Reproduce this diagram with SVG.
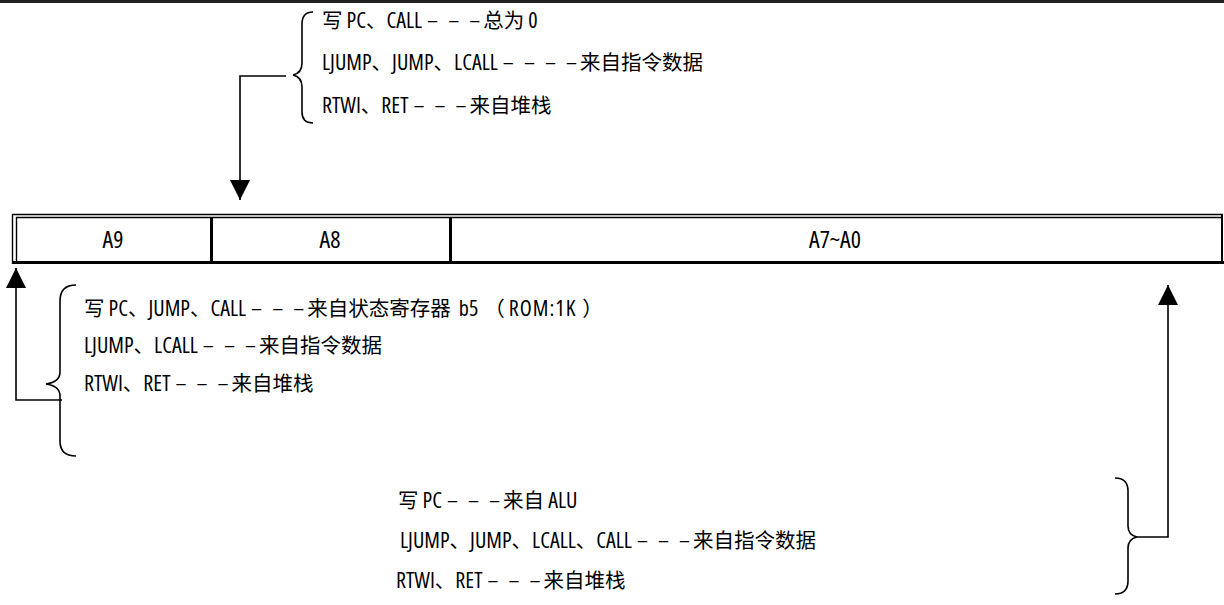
<svg xmlns="http://www.w3.org/2000/svg" width="1224" height="605" viewBox="0 0 1224 605">
<style>
.t{font-family:"Noto Sans CJK SC",sans-serif;font-size:20.5px;fill:#000}
.l{font-family:"Open Sans",sans-serif;font-stretch:75%;font-size:22px}
.d{font-family:"Open Sans",sans-serif;font-stretch:75%;font-size:22px;letter-spacing:3px}
.c{font-family:"Open Sans",sans-serif;font-stretch:75%;font-size:24px;fill:#000;text-anchor:middle}
.ln{stroke:#000;fill:none;stroke-width:1.6}
.br{stroke:#000;fill:none;stroke-width:1.6}
.thin{stroke:#000;stroke-width:1.4;fill:none}
.thick{stroke:#000;stroke-width:3;fill:none}
</style>
<defs>
<marker id="arr" markerUnits="userSpaceOnUse" markerWidth="20" markerHeight="20" refX="20" refY="10" orient="auto">
<path d="M0,0 L20,10 L0,20 z" fill="#000"/>
</marker>
</defs>
<rect x="0" y="0" width="1224" height="3" fill="#222"/>

<g id="register">
<line class="thin" x1="12" y1="214.5" x2="1223" y2="214.5"/>
<line class="thin" x1="16" y1="217.5" x2="1222" y2="217.5"/>
<line class="thin" x1="12.5" y1="214" x2="12.5" y2="264"/>
<line class="thin" x1="16.5" y1="217" x2="16.5" y2="262"/>
<line class="thick" x1="12" y1="262.5" x2="1224" y2="262.5"/>
<line class="thin" x1="1222" y1="214" x2="1222" y2="264" style="stroke-width:2"/>
<line class="thick" x1="211.5" y1="217" x2="211.5" y2="262"/>
<line class="thick" x1="450.5" y1="217" x2="450.5" y2="262"/>
<text class="c" x="113" y="248">A9</text>
<text class="c" x="330" y="248">A8</text>
<text class="c" x="835" y="248">A7~A0</text>
</g>

<g id="top-note">
<path class="br" d="M313,12 Q302,12 302,24 L302,63 Q302,73 293,75 Q302,77 302,87 L302,112 Q302,123 313,123"/>
<text class="t" x="322" y="28">写<tspan class="l"> PC</tspan>、<tspan class="l">CALL</tspan><tspan class="d" dx="5">– – –</tspan>总为<tspan class="l"> 0</tspan></text>
<text class="t" x="322" y="70"><tspan class="l">LJUMP</tspan>、<tspan class="l">JUMP</tspan>、<tspan class="l">LCALL</tspan><tspan class="d" dx="5">– – – –</tspan>来自指令数据</text>
<text class="t" x="322" y="113"><tspan class="l">RTWI</tspan>、<tspan class="l">RET</tspan><tspan class="d" dx="5">– – –</tspan>来自堆栈</text>
</g>

<g id="left-note">
<path class="br" d="M76,285 Q60,285 60,301 L60,372 Q60,382 46,384 Q60,386 60,396 L60,441 Q60,456 76,456"/>
<text class="t" x="84" y="316">写<tspan class="l"> PC</tspan>、<tspan class="l">JUMP</tspan>、<tspan class="l">CALL</tspan><tspan class="d" dx="5">– – –</tspan>来自状态寄存器<tspan class="l" dx="4"> b5</tspan><tspan dx="6">（</tspan><tspan class="l" dx="4" letter-spacing="1">ROM:1K</tspan><tspan dx="6">）</tspan></text>
<text class="t" x="84" y="353"><tspan class="l">LJUMP</tspan>、<tspan class="l">LCALL</tspan><tspan class="d" dx="5">– – –</tspan>来自指令数据</text>
<text class="t" x="84" y="391"><tspan class="l">RTWI</tspan>、<tspan class="l">RET</tspan><tspan class="d" dx="5">– – –</tspan>来自堆栈</text>
</g>

<g id="bottom-note">
<path class="br" d="M1115,478 Q1128,478 1128,491 L1128,526 Q1128,535 1137,537 Q1128,539 1128,548 L1128,581 Q1128,594 1115,594"/>
<text class="t" x="398" y="508">写<tspan class="l"> PC</tspan><tspan class="d" dx="5">– – –</tspan>来自<tspan class="l"> ALU</tspan></text>
<text class="t" x="400" y="548"><tspan class="l"> LJUMP</tspan>、<tspan class="l">JUMP</tspan>、<tspan class="l">LCALL</tspan>、<tspan class="l">CALL</tspan><tspan class="d" dx="5">– – –</tspan>来自指令数据</text>
<text class="t" x="396" y="588"><tspan class="l">RTWI</tspan>、<tspan class="l">RET</tspan><tspan class="d" dx="5">– – –</tspan>来自堆栈</text>
</g>

<g id="connectors">
<polyline class="ln" points="286,76 240,76 240,200" marker-end="url(#arr)"/>
<polyline class="ln" points="62,400 16,400 16,268" marker-end="url(#arr)"/>
<polyline class="ln" points="1137,537 1168,537 1168,285" marker-end="url(#arr)"/>
</g>
</svg>
